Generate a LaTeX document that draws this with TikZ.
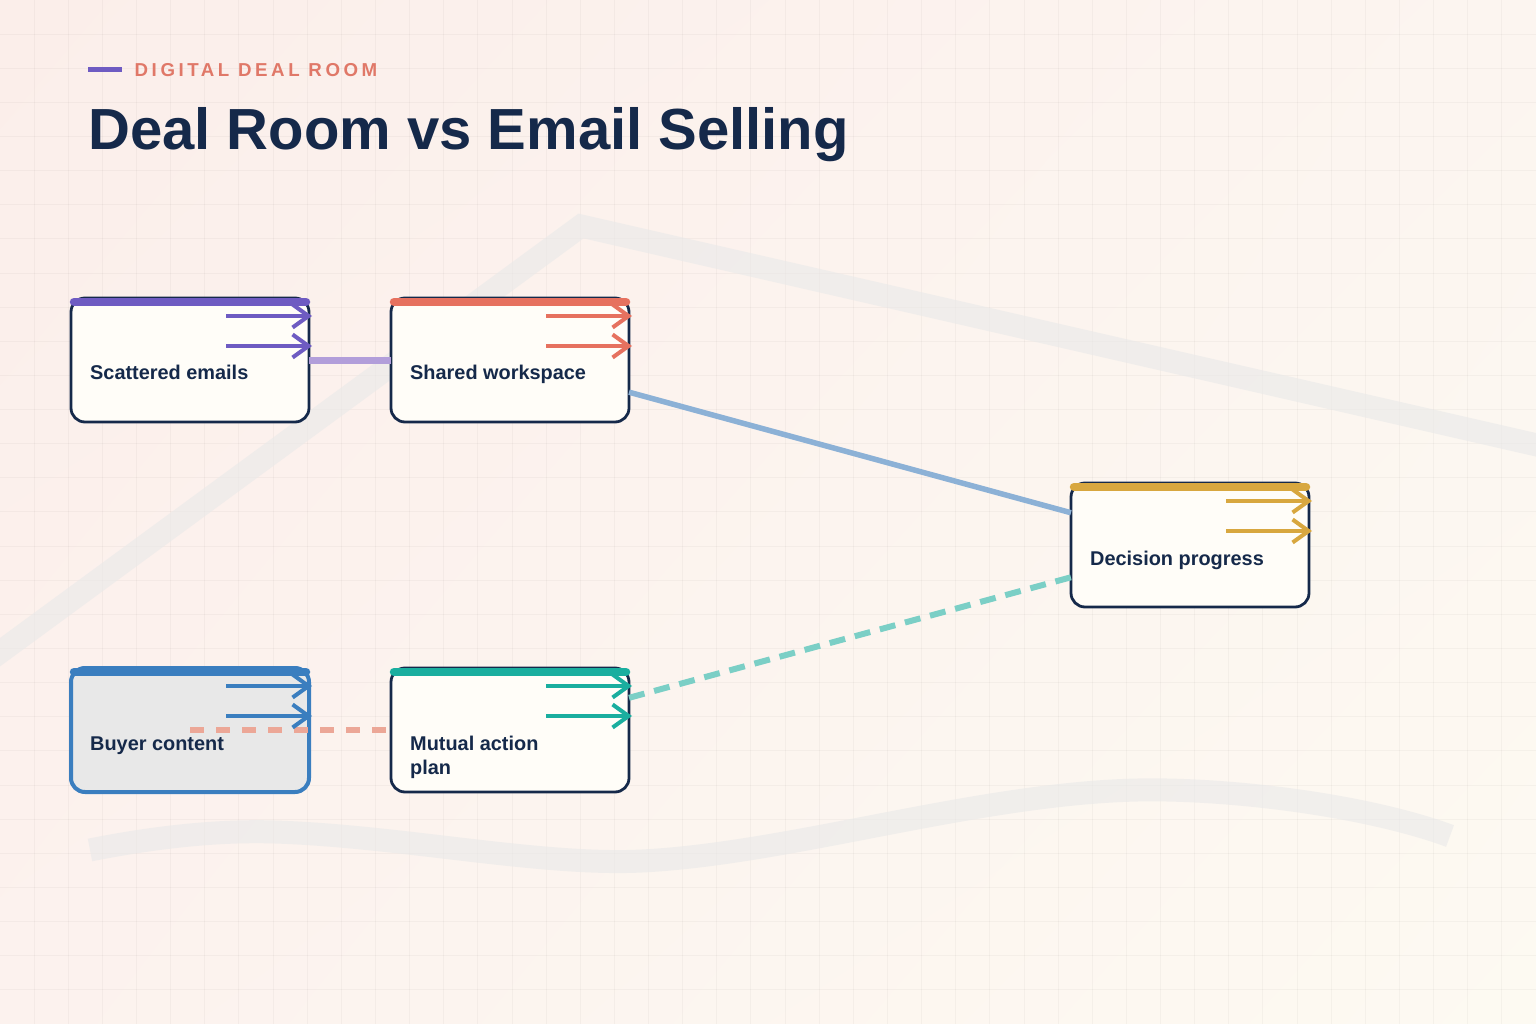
\documentclass[tikz,border=0pt]{standalone}
\usepackage{fontspec}
\setmainfont{Liberation Sans}
\usetikzlibrary{arrows.meta,calc,shadings}
\definecolor{navy}{HTML}{15294A}
\definecolor{accent}{HTML}{E07868}
\definecolor{cpur}{HTML}{6E5BC2}
\definecolor{ccoral}{HTML}{E6715F}
\definecolor{cgold}{HTML}{D8A73F}
\definecolor{cblue}{HTML}{3A7EBF}
\definecolor{cteal}{HTML}{1AAE9F}
\definecolor{lpur}{HTML}{B29EDA}
\definecolor{lblue}{HTML}{8CB1D6}
\definecolor{lsalmon}{HTML}{ECA797}
\definecolor{lteal}{HTML}{7BCFC6}
\definecolor{cardfill}{HTML}{FFFDF8}
\definecolor{buyerfill}{HTML}{E8E8E8}
\definecolor{bgA}{HTML}{FBEEEA}
\definecolor{bgB}{HTML}{FCF5F0}
\definecolor{bgC}{HTML}{FCF2EE}
\definecolor{bgD}{HTML}{FDFAF2}
\definecolor{bandc}{HTML}{E9E9E9}
\tikzset{
  card/.style={draw=navy, line width=2.8pt, fill=cardfill, rounded corners=14pt,
    minimum width=238pt, minimum height=124pt, inner sep=0pt, outer sep=0pt},
  lbl/.style={anchor=base west, inner sep=0pt, text=navy,
    font=\fontsize{19.9}{24}\selectfont\bfseries},
  arr/.style={line width=4pt, -{Straight Barb[length=16pt,width=23pt]}},
  topbar/.style={line width=8.5pt, line cap=round},
  band/.style={draw=bandc, opacity=0.6, line width=23pt},
  gridl/.style={draw=black, opacity=0.03, line width=1pt}
}
\newcommand\carddeco[2]{%
  \draw[topbar, #2] ($(#1.north west)+(3,4)$) -- ($(#1.north east)+(-3,4)$);
  \draw[arr, #2] ($(#1.north east)+(-83,18)$) -- ($(#1.north east)+(3,18)$);
  \draw[arr, #2] ($(#1.north east)+(-83,48)$) -- ($(#1.north east)+(3,48)$);
}
\begin{document}
\begin{tikzpicture}[x=1pt,y=-1pt]
\useasboundingbox (0,0) rectangle (1536,1024);
\shade[upper left=bgA, upper right=bgB, lower left=bgC, lower right=bgD] (0,0) rectangle (1536,1024);
\foreach \i in {1,...,44} \draw[gridl] (\i*34.133,0) -- (\i*34.133,1024);
\foreach \i in {1,...,29} \draw[gridl] (0,\i*34.133) -- (1536,\i*34.133);
% background bands
\draw[band, line join=miter] (-12,661) -- (581,226) -- (1550,448);
\draw[band] (90,850) .. controls (150,838) and (215,830) .. (275,832)
  .. controls (400,836) and (540,866) .. (642,861)
  .. controls (800,853) and (1000,786) .. (1167,790)
  .. controls (1265,792) and (1380,810) .. (1450,836);
% header
\draw[cpur, line width=4.4pt] (88,69.5) coordinate (hl1) -- (121.5,69.5) coordinate (hl2);
\node[anchor=base west, inner sep=0pt, text=accent,
  font=\fontsize{18.7}{20}\selectfont\bfseries\addfontfeature{LetterSpace=19}] (kicker) at (134.5,76.7) {DIGITAL DEAL ROOM};
\node[anchor=base west, inner sep=0pt, text=navy,
  font=\fontsize{58}{60}\selectfont\bfseries] (title) at (88,150) {Deal Room vs Email Selling};
% cards
\node[card] (b1) at (190,360) {};
\node[card] (b2) at (510,360) {};
\node[card] (b3) at (1190,545) {};
\node[card, draw=cblue, line width=4pt, fill=buyerfill] (b4) at (190,730) {};
\node[card] (b5) at (510,730) {};
% connectors
\draw[lpur, line width=7pt] (b1) -- (b2);
\draw[lblue, line width=5.5pt] (b2) -- (b3);
\draw[lsalmon, line width=6pt, dash pattern=on 14pt off 12pt] (b4.center) -- (b5);
\draw[lteal, line width=6pt, dash pattern=on 16pt off 10pt] (b5) -- (b3);
% decorations
\carddeco{b1}{cpur}
\carddeco{b2}{ccoral}
\carddeco{b3}{cgold}
\carddeco{b4}{cblue}
\carddeco{b5}{cteal}
% labels
\node[lbl] (t1) at (90,379.5) {Scattered emails};
\node[lbl] (t2) at (410,379.5) {Shared workspace};
\node[lbl] (t3) at (1090,565) {Decision progress};
\node[lbl] (t4) at (90,750) {Buyer content};
\node[lbl] (t5) at (410,750) {Mutual action};
\node[lbl] (t6) at (410,774) {plan};
\end{tikzpicture}
\end{document}
